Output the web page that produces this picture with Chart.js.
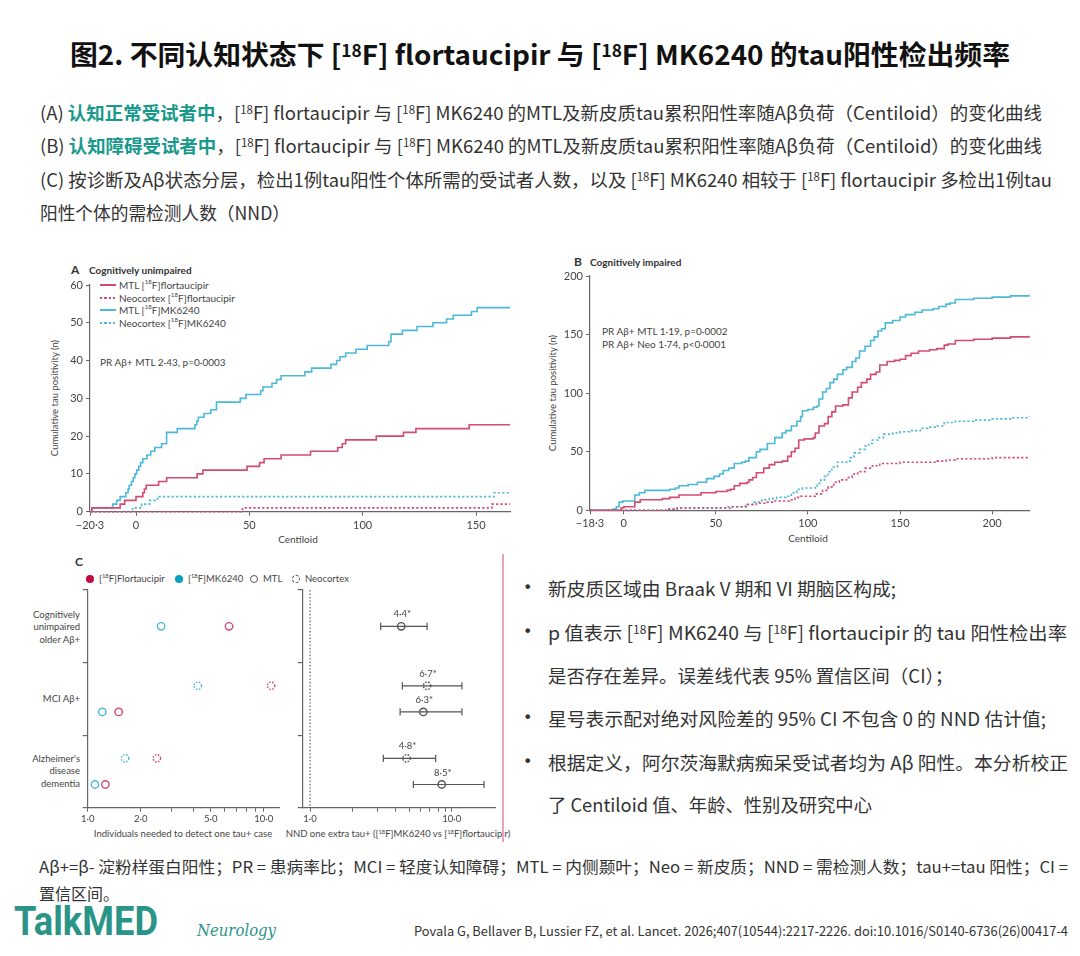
<!DOCTYPE html>
<html><head><meta charset="utf-8">
<script src="https://cdn.jsdelivr.net/npm/chart.js@4.4.1/dist/chart.umd.min.js"></script>
<style>
html,body{margin:0;padding:0;background:#fff;}
body{width:1080px;height:956px;position:relative;overflow:hidden;font-family:"Noto Sans CJK SC","Noto Sans",sans-serif;color:#333;}
.abs{position:absolute;white-space:nowrap;}
canvas{position:absolute;}
sup{font-size:0.62em;vertical-align:0;position:relative;top:-0.5em;}
.t18{font-size:18px;line-height:24px;left:40px;color:#333;}
.hl{color:#17998c;font-weight:bold;}
.bl{font-size:18.5px;line-height:24px;left:548px;color:#333;}
.dot{font-size:16px;line-height:24px;left:523px;color:#333;font-family:"DejaVu Sans",sans-serif;}
.ct{font-family:"Lato","Noto Sans",sans-serif;color:#444;}
.lg{position:absolute;left:100px;font-size:10px;line-height:12px;height:12px;display:flex;align-items:center;white-space:nowrap;}
.ln{display:inline-block;width:16px;height:2px;margin-right:3px;}
.sol-r{background:#d44a72;}
.sol-c{background:#4cb9d8;}
.dt-r{background:repeating-linear-gradient(90deg,#d44a72 0 2.2px,transparent 2.2px 4.4px);}
.dt-c{background:repeating-linear-gradient(90deg,#4cb9d8 0 2.2px,transparent 2.2px 4.4px);}
.rot{transform:translate(-50%,-50%) rotate(-90deg);}
.cl{font-size:9.5px;line-height:12.3px;text-align:right;right:1000px;}
.cleg{font-size:9.5px;line-height:12px;top:573px;display:flex;align-items:center;}
.cdot{display:inline-block;width:8px;height:8px;border-radius:50%;margin-right:5px;box-sizing:border-box;}
</style></head>
<body>
<div class="abs" style="left:70px;top:36px;font-size:27px;line-height:36px;font-weight:bold;color:#111;" data-fit="940">图2. 不同认知状态下 [<sup>18</sup>F] flortaucipir 与 [<sup>18</sup>F] MK6240 的tau阳性检出频率</div>

<div class="abs t18" style="top:100px" data-fit="1002">(A) <span class="hl">认知正常受试者中</span>，[<sup>18</sup>F] flortaucipir 与 [<sup>18</sup>F] MK6240 的MTL及新皮质tau累积阳性率随Aβ负荷（Centiloid）的变化曲线</div>
<div class="abs t18" style="top:133px" data-fit="1002">(B) <span class="hl">认知障碍受试者中</span>，[<sup>18</sup>F] flortaucipir 与 [<sup>18</sup>F] MK6240 的MTL及新皮质tau累积阳性率随Aβ负荷（Centiloid）的变化曲线</div>
<div class="abs t18" style="top:167px" data-fit="1012">(C) 按诊断及Aβ状态分层，检出1例tau阳性个体所需的受试者人数，以及 [<sup>18</sup>F] MK6240 相较于 [<sup>18</sup>F] flortaucipir 多检出1例tau</div>
<div class="abs t18" style="top:200px" data-fit="250">阳性个体的需检测人数（NND）</div>

<!-- Panel A texts -->
<div class="abs ct" style="left:71px;top:263px;font-size:12px;line-height:14px;font-weight:bold;color:#333;">A</div>
<div class="abs ct" style="left:89px;top:264px;font-size:10px;line-height:12px;font-weight:bold;color:#333;">Cognitively unimpaired</div>
<div class="lg ct" style="top:279px"><span class="ln sol-r"></span>MTL [<sup>18</sup>F]flortaucipir</div>
<div class="lg ct" style="top:292px"><span class="ln dt-r"></span>Neocortex [<sup>18</sup>F]flortaucipir</div>
<div class="lg ct" style="top:304px"><span class="ln sol-c"></span>MTL [<sup>18</sup>F]MK6240</div>
<div class="lg ct" style="top:317px"><span class="ln dt-c"></span>Neocortex [<sup>18</sup>F]MK6240</div>
<div class="abs ct" style="left:100px;top:356px;font-size:10px;line-height:12px;">PR Aβ+ MTL 2·43, p=0·0003</div>
<div class="abs ct rot" style="left:55px;top:398px;font-size:9.5px;line-height:12px;">Cumulative tau positivity (n)</div>
<div class="abs ct" style="left:298px;top:539px;transform:translate(-50%,-50%);font-size:10px;line-height:12px;">Centiloid</div>

<!-- Panel B texts -->
<div class="abs ct" style="left:574px;top:255px;font-size:12px;line-height:14px;font-weight:bold;color:#333;">B</div>
<div class="abs ct" style="left:590px;top:256px;font-size:10px;line-height:12px;font-weight:bold;color:#333;">Cognitively impaired</div>
<div class="abs ct" style="left:602px;top:325px;font-size:10px;line-height:12px;">PR Aβ+ MTL 1·19, p=0·0002</div>
<div class="abs ct" style="left:602px;top:338px;font-size:10px;line-height:12px;">PR Aβ+ Neo 1·74, p&lt;0·0001</div>
<div class="abs ct rot" style="left:553px;top:393px;font-size:9.5px;line-height:12px;">Cumulative tau positivity (n)</div>
<div class="abs ct" style="left:808px;top:538px;transform:translate(-50%,-50%);font-size:10px;line-height:12px;">Centiloid</div>

<!-- Panel C texts -->
<div class="abs ct" style="left:75px;top:555px;font-size:12px;line-height:14px;font-weight:bold;color:#333;">C</div>
<div class="abs ct cleg" style="left:86px;"><span class="cdot" style="background:#c3073f"></span>[<sup>18</sup>F]Flortaucipir</div>
<div class="abs ct cleg" style="left:175px;"><span class="cdot" style="background:#06a0c4"></span>[<sup>18</sup>F]MK6240</div>
<div class="abs ct cleg" style="left:250px;"><span class="cdot" style="border:1.3px solid #555"></span>MTL</div>
<div class="abs ct cleg" style="left:292px;"><span class="cdot" style="border:1.3px dashed #555"></span>Neocortex</div>
<div class="abs ct cl" style="top:609px;">Cognitively<br>unimpaired<br>older Aβ+</div>
<div class="abs ct cl" style="top:693px;">MCI Aβ+</div>
<div class="abs ct cl" style="top:753px;">Alzheimer's<br>disease<br>dementia</div>
<div class="abs ct" style="left:183px;top:834px;transform:translate(-50%,-50%);font-size:9.5px;line-height:12px;">Individuals needed to detect one tau+ case</div>
<div class="abs ct" style="left:398px;top:834px;transform:translate(-50%,-50%);font-size:9.5px;line-height:12px;">NND one extra tau+ ([<sup>18</sup>F]MK6240 vs [<sup>18</sup>F]flortaucipir)</div>

<div class="abs" style="left:502px;top:554px;width:1.5px;height:288px;background:#eba3b8;"></div>

<!-- bullets -->
<div class="abs dot" style="top:576px">•</div>
<div class="abs bl" style="top:576px" data-fit="348">新皮质区域由 Braak V 期和 VI 期脑区构成;</div>
<div class="abs dot" style="top:620px">•</div>
<div class="abs bl" style="top:620px" data-fit="519">p 值表示 [<sup>18</sup>F] MK6240 与 [<sup>18</sup>F] flortaucipir 的 tau 阳性检出率</div>
<div class="abs bl" style="top:663px">是否存在差异。误差线代表 95% 置信区间（CI）；</div>
<div class="abs dot" style="top:706px">•</div>
<div class="abs bl" style="top:706px" data-fit="498">星号表示配对绝对风险差的 95% CI 不包含 0 的 NND 估计值;</div>
<div class="abs dot" style="top:750px">•</div>
<div class="abs bl" style="top:750px" data-fit="520">根据定义，阿尔茨海默病痴呆受试者均为 Aβ 阳性。本分析校正</div>
<div class="abs bl" style="top:792px" data-fit="324">了 Centiloid 值、年龄、性别及研究中心</div>

<!-- footnote -->
<div class="abs" style="left:39px;top:855px;font-size:16px;line-height:22px;color:#333;" data-fit="1029">Aβ+=β- 淀粉样蛋白阳性；PR = 患病率比；MCI = 轻度认知障碍；MTL = 内侧颞叶；Neo = 新皮质；NND = 需检测人数；tau+=tau 阳性；CI =</div>
<div class="abs" style="left:39px;top:882px;font-size:16px;line-height:22px;color:#333;">置信区间。</div>
<div class="abs" style="left:14px;top:899px;font-size:40px;line-height:46px;font-weight:bold;color:#2a9488;font-family:Roboto,'Noto Sans',sans-serif;" data-fit="144">TalkMED</div>
<div class="abs" style="left:197px;top:921px;font-size:16px;line-height:20px;font-style:italic;color:#2a9488;font-family:'DejaVu Serif',serif;" data-fit="79">Neurology</div>
<div class="abs" style="left:414px;top:922px;font-size:13px;line-height:18px;color:#333;" data-fit="654">Povala G, Bellaver B, Lussier FZ, et al. Lancet. 2026;407(10544):2217-2226. doi:10.1016/S0140-6736(26)00417-4</div>

<canvas id="cA"></canvas>
<canvas id="cB"></canvas>
<canvas id="cCL"></canvas>
<canvas id="cCR"></canvas>

<script>
// ---------------- DATA ----------------
// Panel A: cognitively unimpaired, [centiloid, cumulative n]
const aMtlFlortaucipir = [[-20.3,0],[-19.5,1],[-7,2],[-5,3],[0,4],[3,5],[3.7,6],[4.5,7],[10,8],[13.5,9],[27,10],[29.5,11],[49,12],[54.5,13],[56.5,14],[64,15],[77,16],[89,17],[91,18],[92.5,19],[106,20],[118,21],[123.5,22],[147,23],[165,23]];
const aNeoFlortaucipir = [[-20.3,0],[47,1],[157,2],[165,2]];
const aMtlMK6240 = [[-20.3,0],[-19.5,1],[-10.3,2],[-8.5,3],[-7,4],[-4.5,5],[-3.5,6],[-3,7],[-2,8],[-1.2,9],[-0.5,10],[0.3,11],[1.2,12],[2,13],[3,14],[4.8,15],[6.5,16],[8.3,17],[11.3,18],[13.5,21],[18.2,22],[26,23],[26.8,24],[27.5,25],[30,26],[33,27],[35.5,29],[46,30],[48.5,31],[55,32],[56,33],[60,34],[62,35],[64,36],[74.5,37],[77.5,38],[86,39],[88.5,40],[90,41],[92.5,42],[97,43],[102,44],[111.5,45],[112.5,47],[117.5,48],[124,49],[131,50],[137,51],[140,52],[148,53],[150.5,54],[165,54]];
const aNeoMK6240 = [[-20.3,0],[-1.5,1],[2.5,2],[6,3],[9.5,4],[158,5],[165,5]];
const aXTicks = [-20.3,0,50,100,150];
const aXTickLabels = ['\u221220\u00b73','0','50','100','150'];
const aYTicks = [0,10,20,30,40,50,60];

// Panel B: cognitively impaired
const bMtlFlortaucipir = [[-18.3,0],[-1.5,2],[0,3],[6,7],[9,9],[21,10],[25,11],[30,13],[42,15],[50,16],[56,17],[58,18],[60,21],[63,23],[67,24],[68,26],[70,28],[72,32],[76,36],[79,39],[82,41],[86,42],[89,46],[91,50],[93,53],[95,60],[98,61],[103,62],[104,66],[106,72],[109,74],[111,80],[113,84],[115,89],[119,90],[122,96],[124,101],[127,105],[129,109],[132,112],[134,116],[137,118],[139,124],[143,127],[147,128],[150,129],[153,132],[156,134],[160,136],[166,137],[170,138],[174,141],[176,142],[180,145],[190,146],[200,147],[210,148],[220,149]];
const bNeoFlortaucipir = [[-18.3,0],[24,1],[29,2],[58,3],[67,5],[72,6],[78,7],[82,8],[90,9],[93,11],[96,12],[104,14],[108,17],[111,20],[114,24],[117,26],[121,28],[124,31],[127,33],[131,36],[135,38],[139,40],[150,41],[170,42],[175,43],[180,44],[200,45],[220,46]];
const bMtlMK6240 = [[-18.3,0],[-6,1],[-4,3],[-2.5,7],[-0.5,8],[6,13],[8.5,15],[11.5,17],[25,18],[28,19],[30,21],[35,22],[40,24],[45,27],[49,29],[52,31],[54,34],[57,36],[60,40],[64,41],[66,42],[68,45],[72,50],[74,52],[78,57],[82,62],[86,66],[88,68],[91,72],[94,76],[96,80],[97,85],[100,86],[103,88],[105,89],[106,95],[108,101],[110,104],[112,109],[114,112],[116,116],[119,120],[121,122],[124,127],[126,130],[128,136],[131,140],[134,145],[136,148],[138,153],[140,155],[142,160],[146,162],[150,165],[153,167],[158,169],[162,171],[168,172],[171,174],[175,176],[177,177],[180,180],[190,181],[200,182],[210,183],[220,184]];
const bNeoMK6240 = [[-18.3,0],[24,1],[29,2],[56,3],[66,5],[70,7],[75,9],[79,10],[83,11],[88,12],[91,15],[94,18],[97,19],[104,20],[105,23],[107,26],[109,29],[111,33],[113,37],[116,41],[121,42],[123,45],[125,49],[128,52],[131,55],[133,57],[135,60],[138,62],[141,65],[146,66],[150,67],[155,68],[161,70],[165,71],[170,72],[174,75],[180,76],[190,77],[200,78],[210,79],[220,80]];
const bXTicks = [-18.3,0,50,100,150,200];
const bXTickLabels = ['\u221218\u00b73','0','50','100','150','200'];
const bYTicks = [0,50,100,150,200];

// Panel C
const cCategories = ['Cognitively unimpaired older A\u03b2+','MCI A\u03b2+',"Alzheimer's disease dementia"];
const nnFlortaucipirMTL = [6.35,1.50,1.26];
const nnMK6240MTL = [2.61,1.21,1.10];
const nnFlortaucipirNeo = [null,11.0,2.47];
const nnMK6240Neo = [null,4.22,1.63];
const nndMTL = [4.4,6.3,8.5];
const nndMTLLow = [3.15,4.32,5.36];
const nndMTLHigh = [6.7,11.8,16.9];
const nndNeo = [null,6.7,4.8];
const nndNeoLow = [null,4.48,3.29];
const nndNeoHigh = [null,11.8,7.7];
const cLeftTicks = [1,2,3,4,5,6,7,8,9,10];
const cLeftTickLabels = ['1\u00b70','2\u00b70','','','5\u00b70','','','','','10\u00b70'];
const cRightTicks = [1,2,3,4,5,6,7,8,9,10];
const cRightTickLabels = ['1\u00b70','','','','','','','','','10\u00b70'];

// ---------------- STYLE ----------------
const RED = '#d44a72', CYAN = '#4cb9d8', AX = '#666';
Chart.defaults.font.family = 'Lato, "Noto Sans", sans-serif';
Chart.defaults.font.size = 10;
Chart.defaults.color = '#444';
Chart.defaults.animation = false;

function place(id, box){
  const c = document.getElementById(id);
  c.width = box.w; c.height = box.h;
  c.style.left = box.l+'px'; c.style.top = box.t+'px';
  c.style.width = box.w+'px'; c.style.height = box.h+'px';
  return c;
}
function layoutFor(box, area){
  return {
    padding:{top:area.t-box.t, right:(box.l+box.w)-area.r, left:0, bottom:0},
    yw: area.l-box.l, xh: (box.t+box.h)-area.b
  };
}
function axisBase(){
  return {
    grid:{drawOnChartArea:false, drawTicks:true, tickLength:4, color:AX, lineWidth:1},
    border:{display:true, color:AX, width:1.2}
  };
}
function fixedTicks(vals){ return s => { s.ticks = vals.map(v=>({value:v})); }; }
const pts = arr => arr.map(([x,y])=>({x,y}));

function stepChart(id, box, area, xr, yr, xT, xL, yT, series){
  const c = place(id, box);
  const L = layoutFor(box, area);
  new Chart(c, {
    type:'line',
    data:{datasets: series.map(s=>({data:pts(s.d), stepped:true, borderColor:s.c, borderWidth:1.6,
      borderDash:s.dash?[2.2,2.2]:[], pointRadius:0, fill:false, clip:false}))},
    options:{
      responsive:false, maintainAspectRatio:false,
      layout:{padding:L.padding},
      plugins:{legend:{display:false}, tooltip:{enabled:false}},
      scales:{
        x:Object.assign(axisBase(),{type:'linear', min:xr[0], max:xr[1],
          afterBuildTicks:fixedTicks(xT),
          ticks:{font:{size:11}, padding:3, maxRotation:0, autoSkip:false, callback:(v,i)=>xL[i]},
          afterFit:s=>{s.height=L.xh;}}),
        y:Object.assign(axisBase(),{type:'linear', min:yr[0], max:yr[1],
          afterBuildTicks:fixedTicks(yT),
          ticks:{font:{size:11}, padding:3, autoSkip:false, callback:v=>String(v)},
          afterFit:s=>{s.width=L.yw;}})
      }
    }
  });
}

stepChart('cA', {l:40,t:262,w:475,h:290}, {l:90,t:285,r:510,b:511.7}, [-20.3,165],[0,60], aXTicks, aXTickLabels, aYTicks, [
  {d:aNeoFlortaucipir, c:RED, dash:true},
  {d:aNeoMK6240, c:CYAN, dash:true},
  {d:aMtlFlortaucipir, c:RED},
  {d:aMtlMK6240, c:CYAN}
]);
stepChart('cB', {l:545,t:262,w:490,h:290}, {l:590,t:276,r:1029,b:510.3}, [-18.3,220],[0,200], bXTicks, bXTickLabels, bYTicks, [
  {d:bNeoFlortaucipir, c:RED, dash:true},
  {d:bNeoMK6240, c:CYAN, dash:true},
  {d:bMtlFlortaucipir, c:RED},
  {d:bMtlMK6240, c:CYAN}
]);

// --- Panel C ---
// row position inside each category band
function rowY(i, region){
  const hasNeo = nndNeo[i] !== null;
  if(region==='MTL') return i + (hasNeo ? 0.68 : 0.5);
  return i + 0.32;
}
function ptsC(vals, region){
  return vals.map((v,i)=> v===null ? null : {x:v, y:rowY(i,region)}).filter(Boolean);
}
const dashPlugin = {
  id:'dashPts',
  beforeDatasetDraw(chart,args){ const ds=chart.data.datasets[args.index]; if(ds.pointDash){chart.ctx.save(); chart.ctx.setLineDash(ds.pointDash);} },
  afterDatasetDraw(chart,args){ const ds=chart.data.datasets[args.index]; if(ds.pointDash){chart.ctx.restore();} }
};
function cAxes(L, xr, xT, xL){
  return {
    x:Object.assign(axisBase(),{type:'logarithmic', min:xr[0], max:xr[1],
      afterBuildTicks:fixedTicks(xT),
      ticks:{font:{size:9.5}, padding:2, maxRotation:0, autoSkip:false, callback:(v,i)=>xL[i]},
      afterFit:s=>{s.height=L.xh;}}),
    y:Object.assign(axisBase(),{type:'linear', min:0, max:3, reverse:true,
      afterBuildTicks:fixedTicks([0,1,2,3]),
      grid:{drawOnChartArea:false, drawTicks:true, tickLength:5, color:AX, lineWidth:1.2},
      ticks:{display:true, callback:()=>''},
      afterFit:s=>{s.width=L.yw;}})
  };
}
function circ(data, color, dashed){
  return {data, pointRadius:3.7, pointBorderWidth:1.4, pointBorderColor:color, pointBackgroundColor:'#fff',
    pointDash: dashed?[1.6,1.4]:null, clip:false};
}
(function(){
  const box={l:20,t:580,w:270,h:250}, area={l:87.7,t:590,r:279,b:807.7};
  const c = place('cCL', box); const L = layoutFor(box, area);
  new Chart(c, {
    type:'scatter',
    data:{datasets:[
      circ(ptsC(nnFlortaucipirMTL,'MTL'), RED, false),
      circ(ptsC(nnMK6240MTL,'MTL'), CYAN, false),
      circ(ptsC(nnFlortaucipirNeo,'Neo'), RED, true),
      circ(ptsC(nnMK6240Neo,'Neo'), CYAN, true)
    ]},
    options:{responsive:false, maintainAspectRatio:false, layout:{padding:L.padding},
      plugins:{legend:{display:false}, tooltip:{enabled:false}},
      scales:cAxes(L,[1,12.2],cLeftTicks,cLeftTickLabels)},
    plugins:[dashPlugin]
  });
})();
(function(){
  const box={l:290,t:580,w:215,h:250}, area={l:302.7,t:590,r:495,b:807.7};
  const c = place('cCR', box); const L = layoutFor(box, area);
  const ds = [];
  // reference line at NND = 1
  ds.push({data:[{x:1,y:0},{x:1,y:3}], showLine:true, borderColor:'#666', borderWidth:1.2, borderDash:[1.6,1.8], pointRadius:0, clip:false});
  function addRow(est, lo, hi, region){
    est.forEach((v,i)=>{
      if(v===null) return;
      const y = rowY(i, region);
      ds.push({data:[{x:lo[i],y},{x:hi[i],y}], showLine:true, borderColor:'#555', borderWidth:1.2,
        pointStyle:'line', rotation:90, pointRadius:3.6, pointBorderWidth:1.2, pointBorderColor:'#555', clip:false});
      ds.push({data:[{x:v,y}], pointRadius:3.7, pointBorderWidth:1.4, pointBorderColor:'#555', pointBackgroundColor:'#fff',
        pointDash: region==='Neo'?[1.6,1.4]:null, clip:false, nndLabel: String(v).replace('.','\u00b7')+'*'});
    });
  }
  addRow(nndMTL, nndMTLLow, nndMTLHigh, 'MTL');
  addRow(nndNeo, nndNeoLow, nndNeoHigh, 'Neo');
  const labelPlugin = {
    id:'nndLabels',
    afterDatasetsDraw(chart){
      const ctx = chart.ctx; ctx.save();
      ctx.font = '9.5px Lato, "Noto Sans", sans-serif'; ctx.fillStyle = '#444';
      ctx.textAlign = 'center'; ctx.textBaseline = 'middle';
      chart.data.datasets.forEach((d,di)=>{
        if(!d.nndLabel) return;
        const el = chart.getDatasetMeta(di).data[0];
        ctx.fillText(d.nndLabel, el.x+1, el.y-12);
      });
      ctx.restore();
    }
  };
  new Chart(c, {
    type:'scatter',
    data:{datasets:ds},
    options:{responsive:false, maintainAspectRatio:false, layout:{padding:L.padding},
      plugins:{legend:{display:false}, tooltip:{enabled:false}},
      scales:cAxes(L,[0.887,20.2],cRightTicks,cRightTickLabels)},
    plugins:[dashPlugin, labelPlugin]
  });
})();

// fit text lines to measured widths
function fitAll(){
  document.querySelectorAll('[data-fit]').forEach(el=>{
    el.style.transform='none';
    const w = el.getBoundingClientRect().width;
    const target = parseFloat(el.dataset.fit);
    el.style.transformOrigin = '0 50%';
    el.style.transform = 'scaleX(' + (target/w) + ')';
  });
}
fitAll();
if(document.fonts && document.fonts.ready) document.fonts.ready.then(fitAll);
</script>
</body></html>
